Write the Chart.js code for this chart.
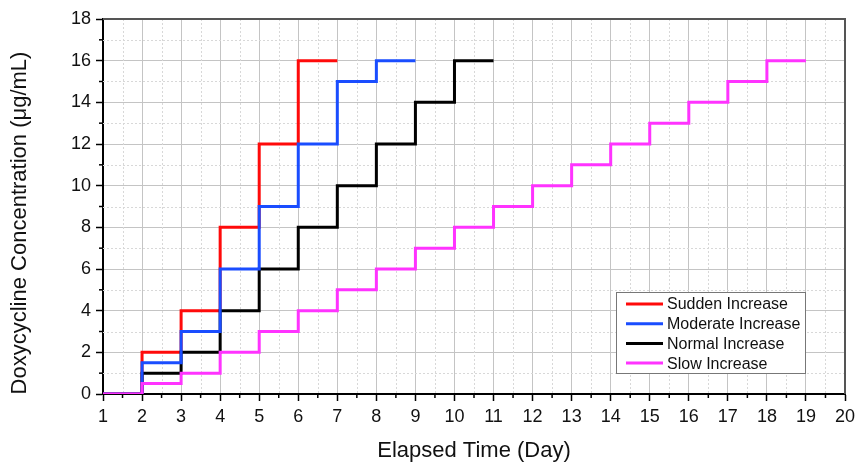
<!DOCTYPE html>
<html>
<head>
<meta charset="utf-8">
<script src="https://cdn.jsdelivr.net/npm/chart.js@4"></script>
<style>
  html, body { margin: 0; padding: 0; background: #fff; }
  #wrap { width: 857px; height: 462px; }
</style>
</head>
<body>
<div id="wrap"><canvas id="chart"></canvas></div>
<script>
// step points: value holds from this day until the next day
var suddenDays = [1, 2, 3, 4, 5, 6, 7];
var suddenConc = [0, 2, 4, 8, 12, 16, 16];

var moderateDays = [1, 2, 3, 4, 5, 6, 7, 8, 9];
var moderateConc = [0, 1.5, 3, 6, 9, 12, 15, 16, 16];

var normalDays = [1, 2, 3, 4, 5, 6, 7, 8, 9, 10, 11];
var normalConc = [0, 1, 2, 4, 6, 8, 10, 12, 14, 16, 16];

var slowDays = [1, 2, 3, 4, 5, 6, 7, 8, 9, 10, 11, 12, 13, 14, 15, 16, 17, 18, 19];
var slowConc = [0, 0.5, 1, 2, 3, 4, 5, 6, 7, 8, 9, 10, 11, 12, 13, 14, 15, 16, 16];

var seriesNames = ['Sudden Increase', 'Moderate Increase', 'Normal Increase', 'Slow Increase'];
var seriesColors = ['#ff0a0a', '#1a4dff', '#000000', '#ff33ff'];

var yTitle = 'Doxycycline Concentration (\u03bcg/mL)';
var FONT = '"Liberation Sans", Arial, sans-serif';

function pts(xs, ys) {
  return xs.map(function (x, i) { return { x: x, y: ys[i] }; });
}

function makeSet(i, xs, ys, order) {
  return {
    label: seriesNames[i],
    data: pts(xs, ys),
    borderColor: seriesColors[i],
    backgroundColor: seriesColors[i],
    borderWidth: 3,
    stepped: true,
    pointRadius: 0,
    fill: false,
    order: order
  };
}

var frame = {
  id: 'frame',
  beforeDatasetsDraw: function (chart) {
    var c = chart.ctx, a = chart.chartArea;
    var xs = chart.scales.x, ys = chart.scales.y;
    c.save();
    c.strokeStyle = '#d8d8d8';
    c.lineWidth = 1;
    c.setLineDash([2, 2]);
    for (var v = 1.5; v < 20; v += 1) {
      var px = Math.round(xs.getPixelForValue(v)) + 0.5;
      c.beginPath(); c.moveTo(px, a.top); c.lineTo(px, a.bottom); c.stroke();
    }
    for (var w = 1; w < 18; w += 2) {
      var py = Math.round(ys.getPixelForValue(w)) + 0.5;
      c.beginPath(); c.moveTo(a.left, py); c.lineTo(a.right, py); c.stroke();
    }
    c.restore();
  },
  afterDatasetsDraw: function (chart) {
    var c = chart.ctx, a = chart.chartArea;
    var xs = chart.scales.x, ys = chart.scales.y;
    c.save();
    // minor ticks
    c.strokeStyle = '#000';
    c.lineWidth = 1.5;
    for (var v = 1.5; v < 20; v += 1) {
      var px = xs.getPixelForValue(v);
      c.beginPath(); c.moveTo(px, a.bottom); c.lineTo(px, a.bottom + 4); c.stroke();
    }
    for (var w = 1; w < 18; w += 2) {
      var py = ys.getPixelForValue(w);
      c.beginPath(); c.moveTo(a.left, py); c.lineTo(a.left - 4, py); c.stroke();
    }
    // top and right frame
    c.strokeStyle = '#555';
    c.lineWidth = 2;
    c.beginPath();
    c.moveTo(a.left, a.top); c.lineTo(a.right, a.top); c.lineTo(a.right, a.bottom);
    c.stroke();
    // y axis title
    c.save();
    c.translate(20, 223);
    c.rotate(-Math.PI / 2);
    c.font = '22px ' + FONT;
    c.fillStyle = '#111';
    c.textAlign = 'center';
    c.textBaseline = 'middle';
    c.fillText(yTitle, 0, 0);
    c.restore();
    // legend box
    var bx = a.left + 513, by = a.top + 273, bw = 189, bh = 81;
    c.fillStyle = '#fff';
    c.fillRect(bx, by, bw, bh);
    c.strokeStyle = '#777';
    c.lineWidth = 1;
    c.strokeRect(bx + 0.5, by + 0.5, bw, bh);
    c.font = '16px ' + FONT;
    c.textBaseline = 'middle';
    c.fillStyle = '#111';
    chart.data.datasets.forEach(function (ds, i) {
      var cy = by + 12 + i * 19.7;
      c.strokeStyle = ds.borderColor;
      c.lineWidth = 3;
      c.beginPath(); c.moveTo(bx + 10, cy); c.lineTo(bx + 47, cy); c.stroke();
      c.fillText(ds.label, bx + 51, cy + 1);
    });
    c.restore();
  }
};

new Chart(document.getElementById('chart'), {
  type: 'line',
  data: {
    datasets: [
      makeSet(0, suddenDays, suddenConc, 3),
      makeSet(1, moderateDays, moderateConc, 1),
      makeSet(2, normalDays, normalConc, 2),
      makeSet(3, slowDays, slowConc, 0)
    ]
  },
  options: {
    responsive: true,
    maintainAspectRatio: false,
    animation: false,
    layout: { padding: { top: 19, right: 12, left: 0, bottom: 0 } },
    plugins: {
      legend: { display: false },
      tooltip: { enabled: false }
    },
    scales: {
      x: {
        type: 'linear',
        min: 1,
        max: 20,
        ticks: {
          stepSize: 1,
          color: '#111',
          padding: 5,
          font: { family: FONT, size: 18 },
          maxRotation: 0
        },
        grid: { color: '#c4c4c4', lineWidth: 1, tickColor: '#000', tickLength: 7, tickWidth: 1.5 },
        border: { color: '#000', width: 2 },
        title: {
          display: true,
          text: 'Elapsed Time (Day)',
          color: '#111',
          font: { family: FONT, size: 22, lineHeight: 1 },
          padding: { top: 0, bottom: 0 }
        },
        afterFit: function (s) { s.height = 68; s.paddingLeft = 0; s.paddingRight = 0; }
      },
      y: {
        min: 0,
        max: 18,
        ticks: {
          stepSize: 2,
          color: '#111',
          padding: 5,
          font: { family: FONT, size: 18 }
        },
        grid: { color: '#c4c4c4', lineWidth: 1, tickColor: '#000', tickLength: 7, tickWidth: 1.5 },
        border: { color: '#000', width: 2 },
        afterFit: function (s) { s.width = 103; s.paddingTop = 0; s.paddingBottom = 0; }
      }
    }
  },
  plugins: [frame]
});
</script>
</body>
</html>
